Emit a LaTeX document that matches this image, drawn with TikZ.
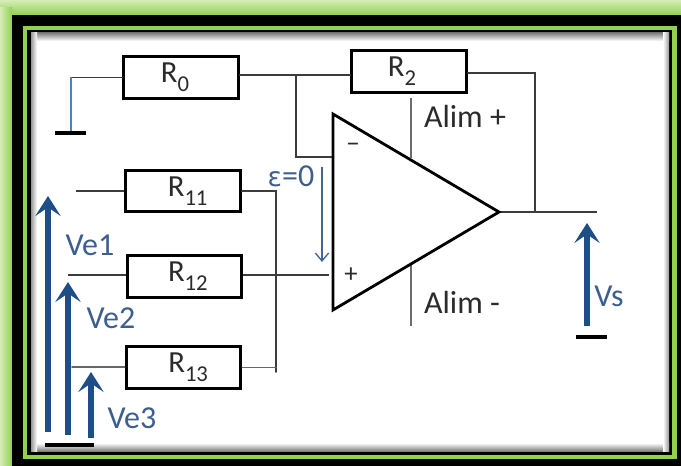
\documentclass[tikz,border=0pt]{standalone}
\usepackage{fontspec}
\setmainfont{Carlito}
\usetikzlibrary{arrows.meta,calc}
\definecolor{framegreen}{HTML}{92D050}
\definecolor{lightgreen}{HTML}{D6EDB8}
\definecolor{wireblue}{HTML}{1F4E86}
\definecolor{thinblue}{HTML}{4F81BD}
\definecolor{labelblue}{HTML}{3D5F8F}
\definecolor{wiregray}{HTML}{3C3C3C}
\definecolor{textgray}{HTML}{2B2B2B}
\newcommand{\Rsub}[1]{\raisebox{-1.5pt}{R\raisebox{-0.3em}{\fontsize{17}{18}\selectfont #1}}}
\tikzset{
  x=0.75pt,y=-0.75pt,
  resbox/.style={draw=black,fill=white,line width=2.1pt,minimum width=86pt,minimum height=31pt,inner sep=0pt,text=textgray,font=\fontsize{23}{25}\selectfont},
  wire/.style={draw=wiregray,line width=1.35pt,line cap=round,line join=miter},
  thinwire/.style={draw=wiregray,line width=1pt},
  railwire/.style={draw=gray!85!black,line width=1.6pt},
  groundbar/.style={draw=black,line width=3.6pt},
  bigarrow/.style={draw=wireblue,line width=3.8pt,-{Stealth[length=15pt,width=19pt,inset=6.5pt]}},
  vlabel/.style={text=labelblue,font=\fontsize{24}{26}\selectfont,inner sep=0pt},
  alimlabel/.style={text=textgray,font=\fontsize{24}{26}\selectfont,inner sep=0pt},
  signlabel/.style={text=textgray,font=\fontsize{20}{22}\selectfont,inner sep=0pt},
}
\begin{document}
\begin{tikzpicture}
\useasboundingbox (0,0) rectangle (681,466);
% frame
\fill[framegreen] (0,0) rectangle (681,466);
\shade[top color=lightgreen,bottom color=framegreen] (0,0) rectangle (681,15);
\shade[left color=lightgreen,right color=framegreen] (0,8) rectangle (12,466);
\fill[black] (12,15) rectangle (681,466);
\fill[framegreen] (23,26) rectangle (677,459);
\fill[black] (27,30) rectangle (672,455);
\fill[white] (31,33) rectangle (669,451);
\shade[top color=gray,bottom color=white] (31,33) rectangle (669,41);
\shade[bottom color=gray,top color=white] (31,443) rectangle (669,451);
\shade[left color=gray!80,right color=white] (31,33) rectangle (37,451);
\shade[right color=gray!80,left color=white] (663,33) rectangle (669,451);
% coordinates
\coordinate (gndzero) at (71,133);
\coordinate (gndzeroL) at (55,133);
\coordinate (gndzeroR) at (86,133);
\coordinate (gndin) at (45,445);
\coordinate (gndinR) at (94,445);
\coordinate (gndoutL) at (576,337);
\coordinate (gndoutR) at (607,337);
\coordinate (tip) at (499,212);
\coordinate (topleft) at (333,114);
\coordinate (botleft) at (333,310);
\coordinate (outend) at (597,212);
\coordinate (jfb) at (296,75);
\coordinate (jinv) at (333,157);
\coordinate (jout) at (535,212);
\coordinate (jtop) at (535,73);
\coordinate (busend) at (276,372);
\coordinate (plusend) at (329,275);
\coordinate (in1) at (76,191);
\coordinate (in2) at (68,275);
\coordinate (in3) at (72,367);
\coordinate (railtop) at (411,98);
\coordinate (railtopb) at (411,158);
\coordinate (railbot) at (411,326);
\coordinate (railbotb) at (411,265);
% resistors
\node[resbox] (R0) at (181,77.5) {\Rsub{0}\kern9pt\relax};
\node[resbox] (R2) at (409,71.5) {\Rsub{2}\kern10.5pt\relax};
\node[resbox] (R11) at (183,191) {\kern7pt\Rsub{11}};
\node[resbox] (R12) at (184.5,276.5) {\kern5pt\Rsub{12}};
\node[resbox] (R13) at (183.5,367.5) {\kern7pt\Rsub{13}};
% wires
\draw[wire] (R0.west) -- (gndzero |- R0.west);
\draw[draw=thinblue,line width=1.2pt] (gndzero |- R0.west) -- (gndzero);
\draw[groundbar] (gndzeroL) -- (gndzeroR);
\draw[wire] (R0.east |- jfb) -- (R2.west |- jfb);
\draw[wire] (jfb) -- (jinv -| jfb) -- (jinv);
\draw[wire] (R2.east |- jtop) -- (jtop) -- (jout);
\draw[thinwire] (tip) -- (outend);
\draw[thinwire] (in1) -- (in1 -| R11.west);
\draw[thinwire] (in2) -- (in2 -| R12.west);
\draw[wire,draw=gray!80!black] (in3) -- (in3 -| R13.west);
\draw[thinwire] (R12.east |- plusend) -- (plusend);
\draw[wire] (R11.east) -- (busend |- R11.east) -- (busend);
\draw[wire,draw=gray!80!black] (R13.east) -- (busend |- R13.east);
\draw[railwire] (railtop) -- (railtopb);
\draw[railwire] (railbot) -- (railbotb);
% amplifier
\draw[draw=black,line width=2.1pt,line join=miter] (topleft) -- (tip) -- (botleft) -- cycle;
% arrows
\draw[bigarrow] (48,432) -- (48,196);
\draw[bigarrow] (68,435) -- (68,282);
\draw[bigarrow] (91,438) -- (91,372);
\draw[bigarrow] (587,326) -- (587,223);
\draw[groundbar] (gndin) -- (gndinR);
\draw[groundbar] (gndoutL) -- (gndoutR);
\draw[draw=thinblue!80!black,line width=1pt,-{Straight Barb[length=6pt,width=10pt]}] (322,167) -- (322,262);
% labels
\node[vlabel] (eps) at (291,176) {\fontspec{DejaVu Sans}\fontsize{20}{22}\selectfont ε\fontspec{Carlito}\fontsize{24}{26}\selectfont =0};
\node[vlabel] (ve1) at (90,245) {Ve1};
\node[vlabel] (ve2) at (111,318) {Ve2};
\node[vlabel] (ve3) at (132,418) {Ve3};
\node[vlabel] (vs) at (609,296) {Vs};
\node[alimlabel] (ap) at (465,116) {Alim +};
\node[alimlabel] (am) at (462,302) {Alim -};
\node[signlabel] (mn) at (353,148) {−};
\node[signlabel] (pl) at (351,275) {+};
\end{tikzpicture}
\end{document}
